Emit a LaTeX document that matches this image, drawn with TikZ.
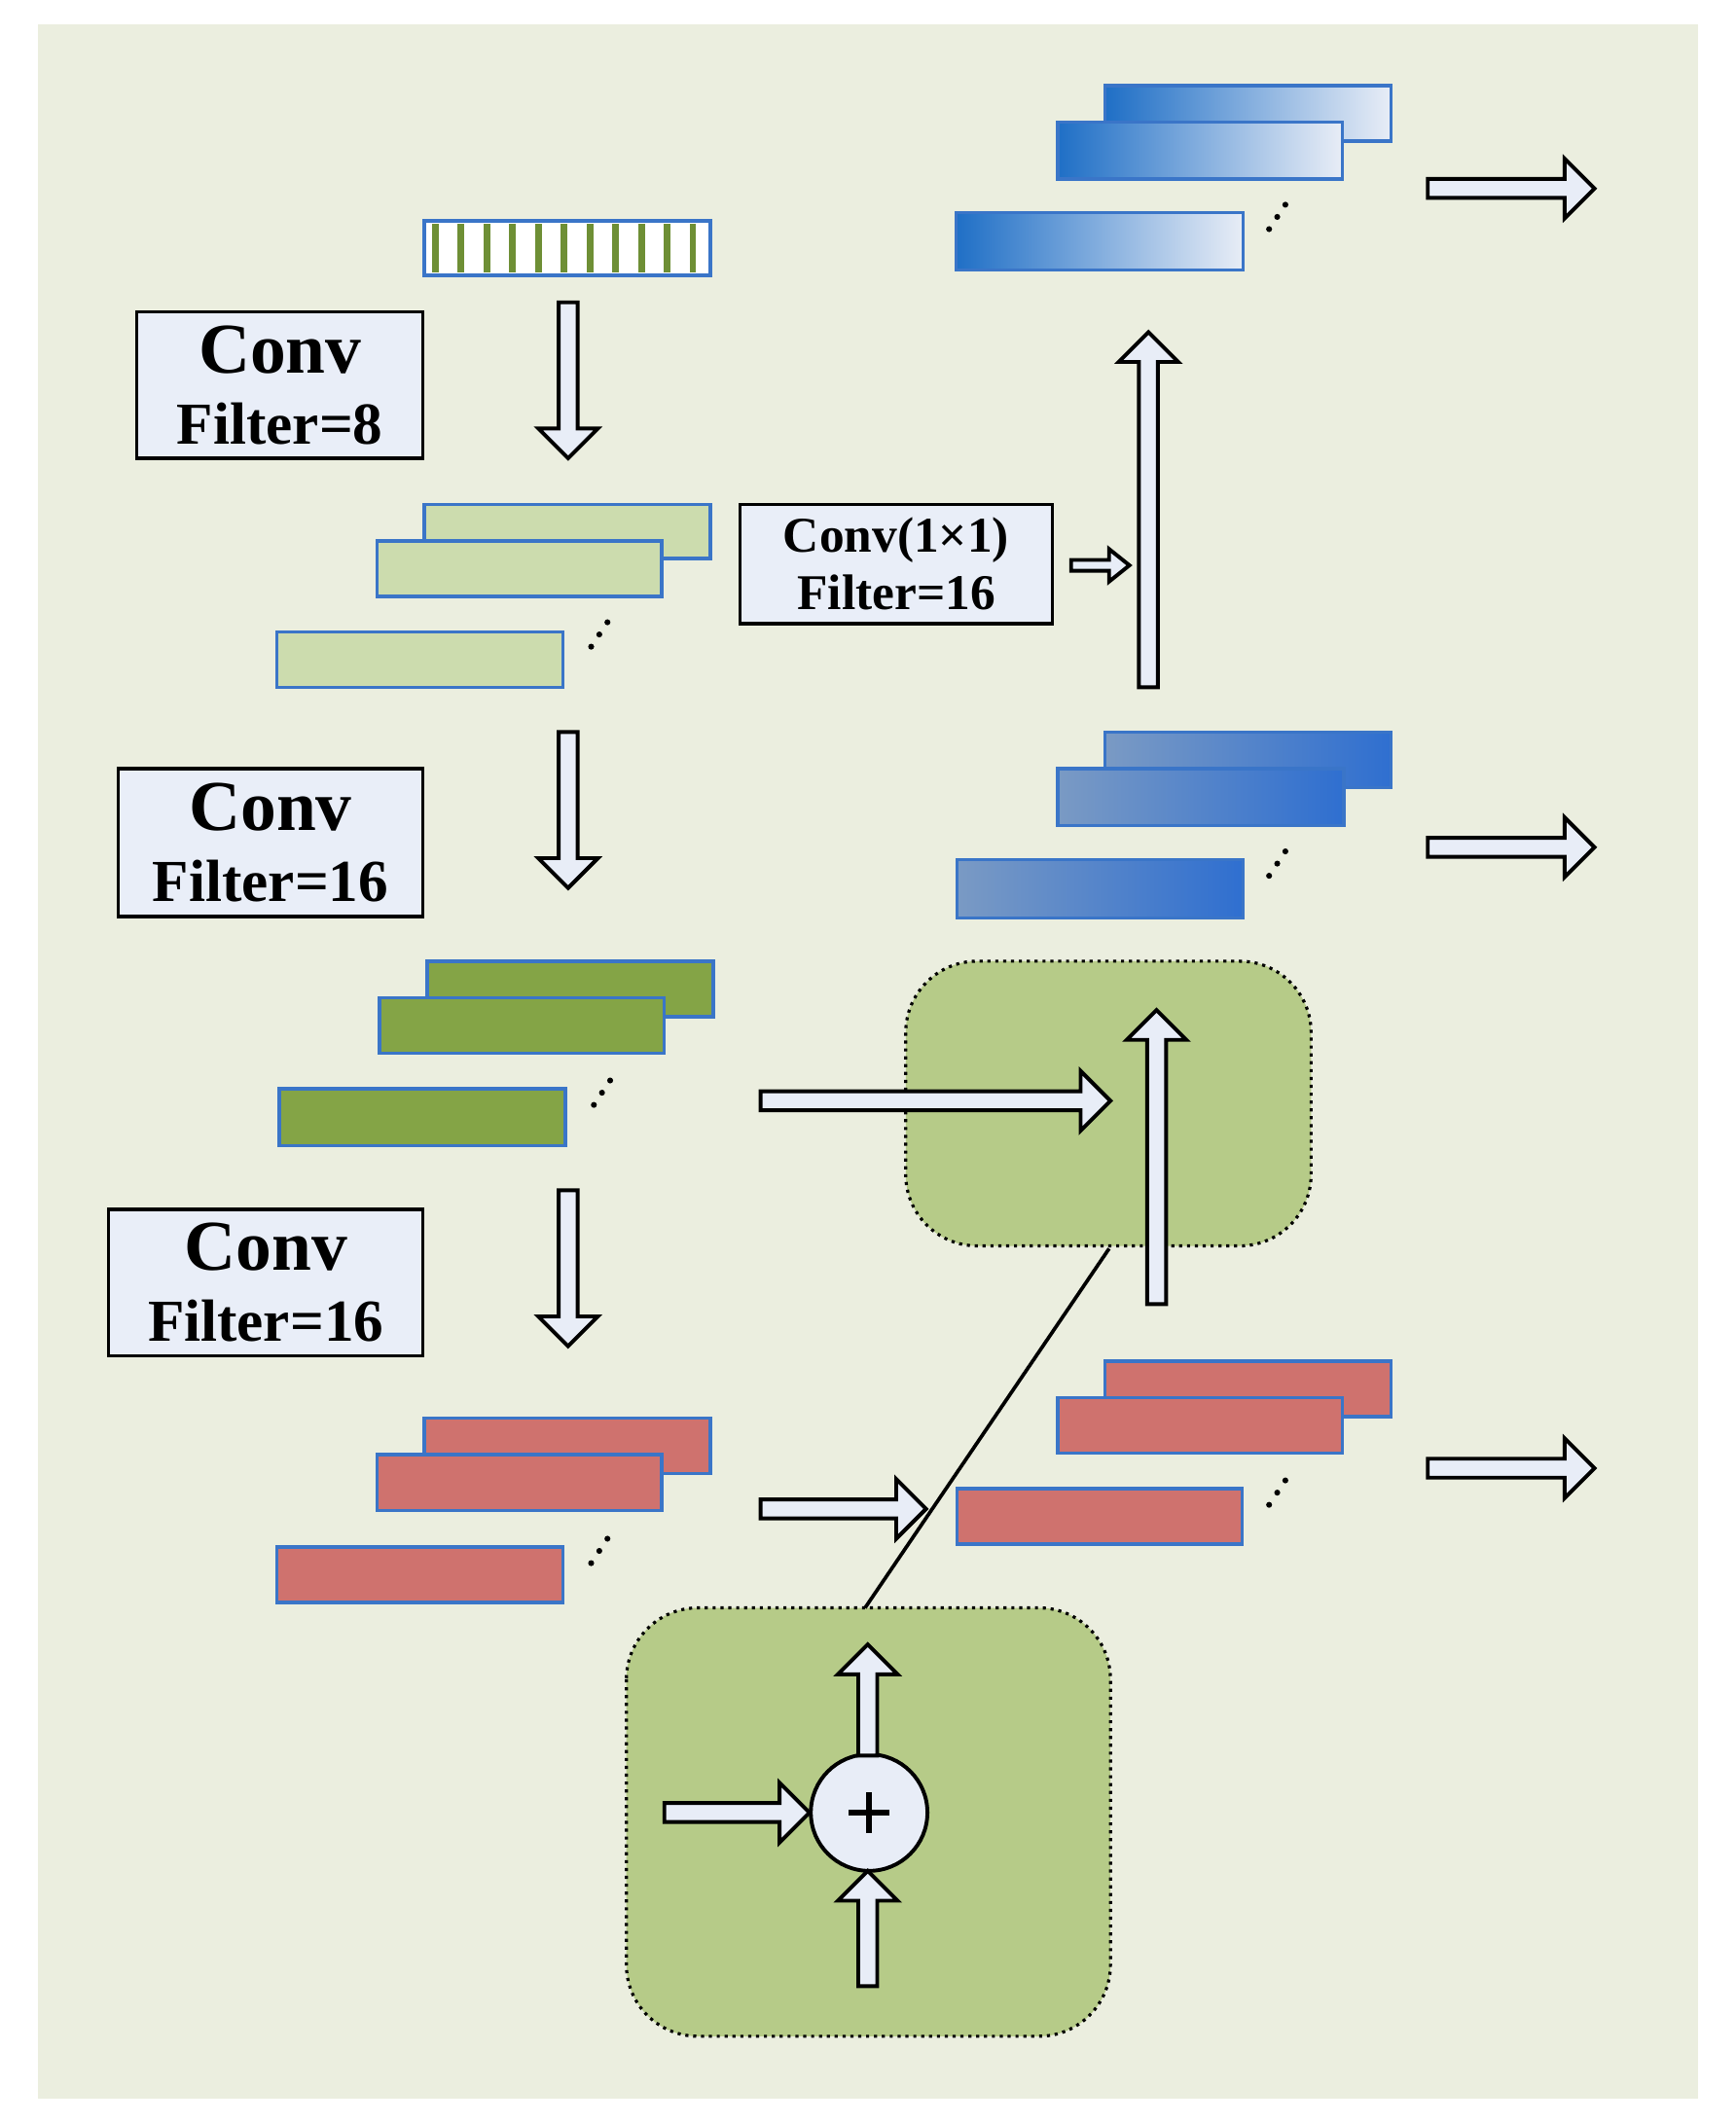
\documentclass[tikz,border=0pt]{standalone}
\usepackage{fontspec}
\setmainfont{Liberation Serif}
\begin{document}
\begin{tikzpicture}[x=0.02cm,y=-0.02cm,
  ha/.style={draw=black,line width=1.6pt,fill=afill,line join=miter},
  box/.style={draw=black,line width=1.4pt,fill=boxfill},
  fm/.style={draw=fmborder,line width=1.4pt},
  region/.style={draw=black,dotted,line width=1.3pt,fill=regfill,rounded corners=30pt}]
\definecolor{afill}{HTML}{E8EDF7}
\definecolor{boxfill}{HTML}{E9EEF8}
\definecolor{fmborder}{HTML}{3A75C8}
\definecolor{regfill}{HTML}{B6CB88}
\definecolor{bg}{HTML}{EBEEDF}
\definecolor{g1}{HTML}{CCDCAE}
\definecolor{g2}{HTML}{84A446}
\definecolor{rd}{HTML}{CF726E}
\definecolor{stripe}{HTML}{6E8F35}
\newcommand\arrR[3]{\draw[ha] (#1,#2-7) -- (#1+#3-22,#2-7) -- (#1+#3-22,#2-22) -- (#1+#3,#2) -- (#1+#3-22,#2+22) -- (#1+#3-22,#2+7) -- (#1,#2+7) -- cycle;}
\newcommand\arrU[3]{\draw[ha] (#1-7,#2) -- (#1-7,#2-#3+22) -- (#1-22,#2-#3+22) -- (#1,#2-#3) -- (#1+22,#2-#3+22) -- (#1+7,#2-#3+22) -- (#1+7,#2) -- cycle;}
\newcommand\arrD[3]{\draw[ha] (#1-7,#2) -- (#1-7,#2+#3-22) -- (#1-22,#2+#3-22) -- (#1,#2+#3) -- (#1+22,#2+#3-22) -- (#1+7,#2+#3-22) -- (#1+7,#2) -- cycle;}
\newcommand\dotsdiag[2]{\foreach \k in {0,1,2}{\fill (#1+6*\k,#2-9*\k) circle (2.2);}}
\useasboundingbox (0,0) rectangle (1280,1566);
\fill[white] (0,0) rectangle (1280,1566);
\fill[bg] (28,18) rectangle (1252,1548);

% regions
\draw[region] (668,709) rectangle (967,919);
\draw[region] (462,1186) rectangle (819,1502);

% input strip
\draw[fm,fill=white] (313,163) rectangle (524,203);
\foreach \i in {0,...,10}{\fill[stripe] (321+19*\i-2.5,165) rectangle (321+19*\i+2.5,201);}

% boxes
\node[box,minimum width=211*0.02cm,minimum height=108*0.02cm,align=center,font=\bfseries\fontsize{30}{34}\selectfont] (b1) at (206.5,284) {Conv\\[-4pt]{\fontsize{25}{27}\selectfont Filter=8}};
\node[box,minimum width=225*0.02cm,minimum height=109*0.02cm,align=center,font=\bfseries\fontsize{30}{34}\selectfont] (b2) at (199.5,621.5) {Conv\\[-4pt]{\fontsize{25}{27}\selectfont Filter=16}};
\node[box,minimum width=232*0.02cm,minimum height=108*0.02cm,align=center,font=\bfseries\fontsize{30}{34}\selectfont] (b3) at (196,946) {Conv\\[-4pt]{\fontsize{25}{27}\selectfont Filter=16}};
\node[box,minimum width=230*0.02cm,minimum height=88*0.02cm,align=center,font=\bfseries\fontsize{21}{24}\selectfont] (b4) at (661,416) {Conv(1×1)\\Filter=16};

% green light maps
\draw[fm,fill=g1] (313,372) rectangle (524,412);
\draw[fm,fill=g1] (278,399) rectangle (488,440);
\draw[fm,fill=g1] (204,466) rectangle (415,507);
\dotsdiag{436}{477}
% green dark maps
\draw[fm,fill=g2] (315,709) rectangle (526,750);
\draw[fm,fill=g2] (280,736) rectangle (490,777);
\draw[fm,fill=g2] (206,803) rectangle (417,845);
\dotsdiag{438}{815}
% red maps left
\draw[fm,fill=rd] (313,1046) rectangle (524,1087);
\draw[fm,fill=rd] (278,1073) rectangle (488,1114);
\draw[fm,fill=rd] (204,1141) rectangle (415,1182);
\dotsdiag{436}{1153}
% red maps right
\draw[fm,fill=rd] (815,1004) rectangle (1026,1045);
\draw[fm,fill=rd] (780,1031) rectangle (990,1072);
\draw[fm,fill=rd] (706,1098) rectangle (916,1139);
\dotsdiag{936}{1110}
% blue mid
\draw[fm,left color={rgb,255:red,122;green,154;blue,196},right color={rgb,255:red,47;green,111;blue,208}] (815,540) rectangle (1026,581);
\draw[fm,left color={rgb,255:red,122;green,154;blue,196},right color={rgb,255:red,47;green,111;blue,208}] (780,567) rectangle (991,609);
\draw[fm,left color={rgb,255:red,122;green,154;blue,196},right color={rgb,255:red,47;green,111;blue,208}] (706,634) rectangle (917,677);
\dotsdiag{936}{646}
% blue top
\draw[fm,left color={rgb,255:red,31;green,111;blue,198},right color={rgb,255:red,232;green,237;blue,246}] (815,63) rectangle (1026,104);
\draw[fm,left color={rgb,255:red,31;green,111;blue,198},right color={rgb,255:red,232;green,237;blue,246}] (780,90) rectangle (990,132);
\draw[fm,left color={rgb,255:red,31;green,111;blue,198},right color={rgb,255:red,232;green,237;blue,246}] (705,157) rectangle (917,199);
\dotsdiag{936}{169}

% arrows
\arrD{419}{223}{115}
\arrD{419}{540}{115}
\arrD{419}{878}{115}
\arrR{561}{1113}{122}
\arrR{561}{812}{258}
\arrU{853}{962}{217}
\arrU{847}{507}{262}
\draw[ha] (790,413) -- (818,413) -- (818,405) -- (833,417) -- (818,429) -- (818,421) -- (790,421) -- cycle;
\arrR{1053}{139}{123}
\arrR{1053}{625}{123}
\arrR{1053}{1083}{123}

% line
\draw[line width=1.5pt] (818,921) -- (638,1186);

% plus block
\node[draw=black,line width=1.6pt,fill=afill,circle,minimum size=86*0.02cm,inner sep=0] (plus) at (641,1337) {};
\draw[line width=2.2pt] (641,1322) -- (641,1352) (626,1337) -- (656,1337);
\arrR{490}{1337}{107}
\arrU{640}{1295}{82}
\arrU{640}{1465}{85}
\end{tikzpicture}
\end{document}
